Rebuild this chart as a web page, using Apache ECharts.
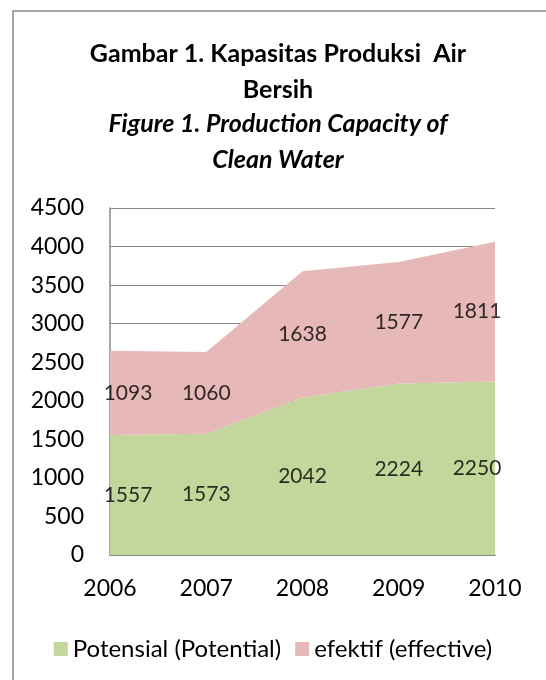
<!DOCTYPE html>
<html>
<head>
<meta charset="utf-8">
<script src="https://cdn.jsdelivr.net/npm/echarts@6/dist/echarts.min.js"></script>
<style>html,body{margin:0;padding:0;background:#fff}#c{width:546px;height:680px}</style>
</head>
<body>
<div id="c"></div>
<script>
const years = ['2006','2007','2008','2009','2010'];
const potensial = [1557, 1573, 2042, 2224, 2250];
const efektif = [1093, 1060, 1638, 1577, 1811];
const seriesNames = ['Potensial (Potential)', 'efektif (effective)'];
const yTicks = {min: 0, max: 4500, interval: 500};

const FONT = 'Lato';
const chart = echarts.init(document.getElementById('c'));

function labelOffset(i) {
  if (i === 0) return [18, 0];
  if (i === years.length - 1) return [-18, 0];
  return [0, 0];
}
const potLabels = potensial.map((v, i) => ({value: [i, v / 2, v], label: {offset: labelOffset(i)}}));
const efLabels = efektif.map((v, i) => ({value: [i, potensial[i] + v / 2, v], label: {offset: labelOffset(i)}}));

const labelStyle = {
  show: true, position: 'inside', color: '#000', fontFamily: FONT, fontSize: 21,
  formatter: p => String(p.value[2])
};

chart.setOption({
  animation: false,
  graphic: [{
    type: 'rect', shape: {x: 13, y: 11, width: 700, height: 800},
    style: {fill: 'none', stroke: '#8a8a8a', lineWidth: 1.5}, silent: true, z: -10
  }],
  title: [{
    text: 'Gambar 1. Kapasitas Produksi  Air\nBersih',
    left: 273, textAlign: 'center', top: 31,
    textStyle: {fontFamily: FONT, fontWeight: 'bold', fontSize: 25, lineHeight: 36, color: '#000'}
  }, {
    text: 'Figure 1. Production Capacity of\nClean Water',
    left: 273, textAlign: 'center', top: 101,
    textStyle: {fontFamily: FONT, fontWeight: 'bold', fontStyle: 'italic', fontSize: 25, lineHeight: 36, color: '#000'}
  }],
  legend: {
    data: seriesNames, top: 632, left: 'center',
    icon: 'rect', itemWidth: 14, itemHeight: 14, itemGap: 14,
    textStyle: {fontFamily: FONT, fontSize: 24, color: '#000'}
  },
  grid: {left: 110, right: 51, top: 208, bottom: 125},
  xAxis: {
    type: 'category', data: years, boundaryGap: false,
    axisLine: {lineStyle: {color: '#888', width: 1.5}},
    axisTick: {show: false},
    axisLabel: {fontFamily: FONT, fontSize: 23, color: '#000', margin: 22}
  },
  yAxis: {
    type: 'value', min: yTicks.min, max: yTicks.max, interval: yTicks.interval,
    axisLine: {show: true, lineStyle: {color: '#888', width: 1.5}},
    axisTick: {show: false},
    splitLine: {lineStyle: {color: '#888', width: 1.2}},
    axisLabel: {fontFamily: FONT, fontSize: 23, color: '#000', margin: 26, formatter: v => String(v)}
  },
  series: [{
    name: seriesNames[0], type: 'line', stack: 'total', data: potensial,
    symbol: 'none', lineStyle: {width: 0}, itemStyle: {color: '#C3D69B'},
    areaStyle: {color: '#C3D69B', opacity: 1}, silent: true
  }, {
    name: seriesNames[1], type: 'line', stack: 'total', data: efektif,
    symbol: 'none', lineStyle: {width: 0}, itemStyle: {color: '#E6B9B8'},
    areaStyle: {color: '#E6B9B8', opacity: 1}, silent: true
  }, {
    type: 'scatter', data: potLabels, symbolSize: 0, label: labelStyle, silent: true, z: 5
  }, {
    type: 'scatter', data: efLabels, symbolSize: 0, label: labelStyle, silent: true, z: 5
  }]
});
</script>
</body>
</html>
